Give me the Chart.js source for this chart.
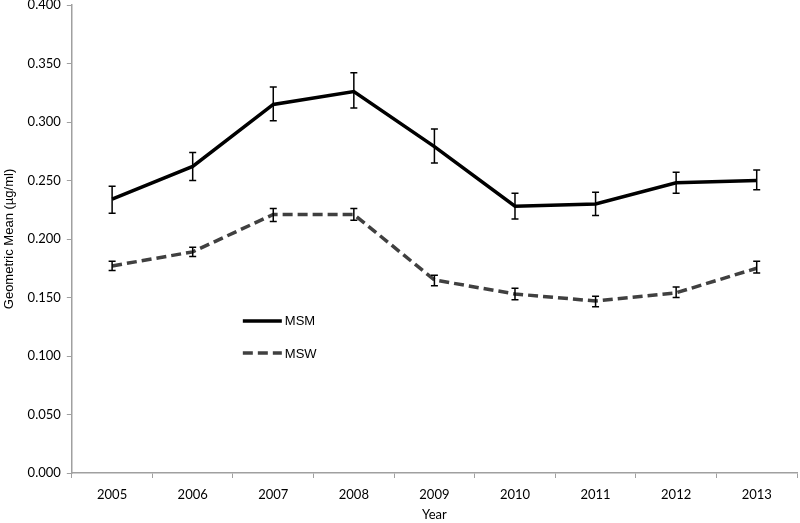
<!DOCTYPE html>
<html>
<head>
<meta charset="utf-8">
<script src="https://cdn.jsdelivr.net/npm/chart.js@4/dist/chart.umd.min.js"></script>
<style>
  html, body { margin: 0; padding: 0; background: #fff; }
  #wrap { width: 800px; height: 523px; }
</style>
</head>
<body>
<div id="wrap"><canvas id="gmChart"></canvas></div>
<script>
const years = ['2005', '2006', '2007', '2008', '2009', '2010', '2011', '2012', '2013'];

const msm = [0.234, 0.262, 0.315, 0.326, 0.279, 0.228, 0.230, 0.248, 0.250];
const msmLow = [0.222, 0.250, 0.301, 0.312, 0.265, 0.217, 0.220, 0.239, 0.242];
const msmHigh = [0.245, 0.274, 0.330, 0.342, 0.294, 0.239, 0.240, 0.257, 0.259];

const msw = [0.177, 0.189, 0.221, 0.221, 0.165, 0.153, 0.147, 0.154, 0.175];
const mswLow = [0.173, 0.185, 0.215, 0.216, 0.160, 0.148, 0.142, 0.150, 0.171];
const mswHigh = [0.181, 0.193, 0.226, 0.226, 0.169, 0.158, 0.151, 0.159, 0.181];

const yTicks = [0, 0.05, 0.1, 0.15, 0.2, 0.25, 0.3, 0.35, 0.4];

const errorRanges = [[msmLow, msmHigh], [mswLow, mswHigh]];

// draws the error bars from the low/high arrays
const errorBars = {
    id: 'errorBars',
    afterDatasetsDraw(chart) {
        const ctx = chart.ctx;
        const yScale = chart.scales.y;
        ctx.save();
        ctx.strokeStyle = '#000';
        ctx.lineWidth = 1.5;
        errorRanges.forEach((range, di) => {
            const meta = chart.getDatasetMeta(di);
            meta.data.forEach((pt, i) => {
                const x = pt.x;
                const yLo = yScale.getPixelForValue(range[0][i]);
                const yHi = yScale.getPixelForValue(range[1][i]);
                ctx.beginPath();
                ctx.moveTo(x, yLo);
                ctx.lineTo(x, yHi);
                ctx.moveTo(x - 3.5, yLo);
                ctx.lineTo(x + 3.5, yLo);
                ctx.moveTo(x - 3.5, yHi);
                ctx.lineTo(x + 3.5, yHi);
                ctx.stroke();
            });
        });
        ctx.restore();
    }
};

// legend sits inside the plot, like the original
const innerLegend = {
    id: 'innerLegend',
    afterDraw(chart) {
        const ctx = chart.ctx;
        const xScale = chart.scales.x;
        const yScale = chart.scales.y;
        const x0 = xScale.left + 171;
        const rows = [yScale.getPixelForValue(0.130), yScale.getPixelForValue(0.1025)];
        ctx.save();
        chart.data.datasets.forEach((ds, i) => {
            const y = rows[i];
            ctx.strokeStyle = ds.borderColor;
            ctx.lineWidth = ds.borderWidth;
            ctx.setLineDash(ds.borderDash || []);
            ctx.beginPath();
            ctx.moveTo(x0, y);
            ctx.lineTo(x0 + 39, y);
            ctx.stroke();
            ctx.setLineDash([]);
            ctx.fillStyle = '#000';
            ctx.font = '13px "Liberation Sans", Arial, sans-serif';
            ctx.textBaseline = 'middle';
            ctx.fillText(ds.label, x0 + 42, y + 1);
        });
        ctx.restore();
    }
};

new Chart(document.getElementById('gmChart'), {
    type: 'line',
    data: {
        labels: years,
        datasets: [
            {
                label: 'MSM',
                data: msm,
                borderColor: '#000000',
                borderWidth: 3.5,
                pointRadius: 0,
                tension: 0,
                fill: false
            },
            {
                label: 'MSW',
                data: msw,
                borderColor: '#404040',
                borderWidth: 3.5,
                borderDash: [10, 5],
                pointRadius: 0,
                tension: 0,
                fill: false
            }
        ]
    },
    options: {
        responsive: true,
        maintainAspectRatio: false,
        animation: false,
        layout: { padding: { top: 5, right: 3, bottom: 0, left: 2 } },
        plugins: {
            legend: { display: false },
            tooltip: { enabled: false }
        },
        scales: {
            x: {
                offset: true,
                afterFit(axis) {
                    axis.height = 50;
                },
                grid: {
                    offset: true,
                    drawOnChartArea: false,
                    drawTicks: true,
                    tickLength: 5,
                    color: '#a0a0a0'
                },
                border: { color: '#a0a0a0', width: 1.5 },
                ticks: {
                    color: '#000',
                    font: { family: 'Lato, "Open Sans", sans-serif', size: 13 },
                    padding: 9,
                    maxRotation: 0
                },
                title: {
                    display: true,
                    text: 'Year',
                    color: '#000',
                    font: { family: 'Lato, "Open Sans", sans-serif', size: 13 },
                    padding: { top: 4, bottom: 0 }
                }
            },
            y: {
                min: 0,
                max: 0.4,
                afterBuildTicks(axis) {
                    axis.ticks = yTicks.map(v => ({ value: v }));
                },
                afterFit(axis) {
                    axis.paddingTop = 0;
                    axis.paddingBottom = 0;
                },
                grid: {
                    drawOnChartArea: false,
                    drawTicks: true,
                    tickLength: 5,
                    color: '#a0a0a0'
                },
                border: { color: '#a0a0a0', width: 1.5 },
                ticks: {
                    color: '#000',
                    font: { family: 'Lato, "Open Sans", sans-serif', size: 13 },
                    padding: 6,
                    callback: v => Number(v).toFixed(3)
                },
                title: {
                    display: true,
                    text: 'Geometric Mean (µg/ml)',
                    color: '#000',
                    font: { family: '"Liberation Sans", Arial, sans-serif', size: 13 },
                    padding: { top: 0, bottom: 4 }
                }
            }
        }
    },
    plugins: [errorBars, innerLegend]
});
</script>
</body>
</html>
